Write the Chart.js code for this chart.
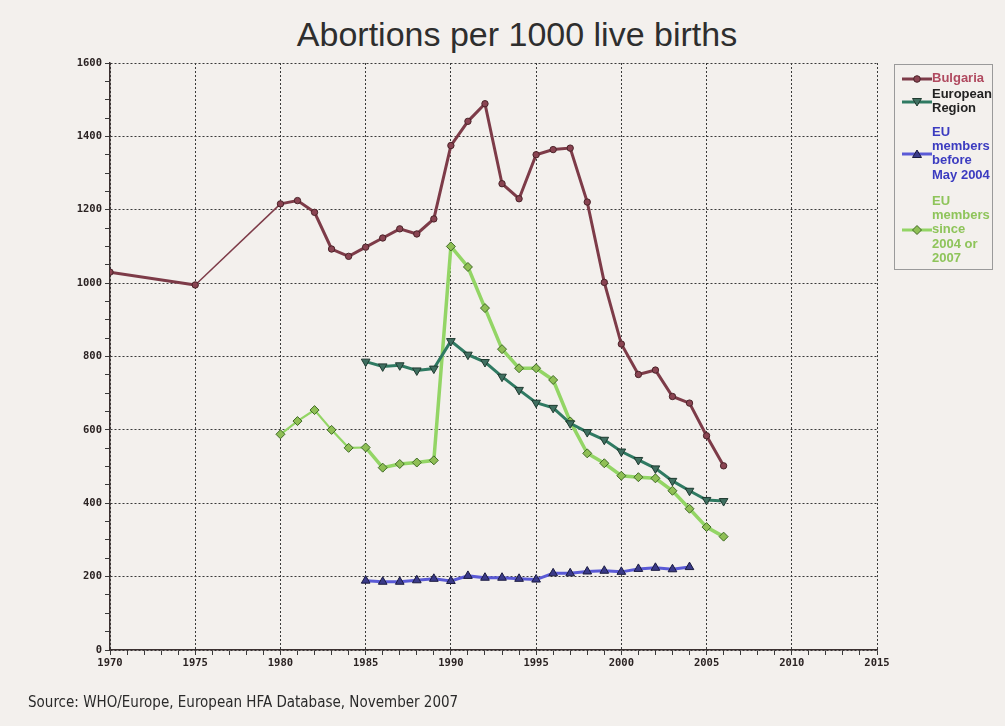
<!DOCTYPE html>
<html>
<head>
<meta charset="utf-8">
<script src="https://cdn.jsdelivr.net/npm/chart.js@4.4.1/dist/chart.umd.min.js"></script>
<style>
  html, body { margin: 0; padding: 0; background: #f3f0ed; }
  body { width: 1005px; height: 726px; position: relative; overflow: hidden; }
  #title { position: absolute; left: 0; top: 17px; width: 1034px; text-align: center;
           font-family: "Liberation Sans", Arial, sans-serif; font-size: 34px; line-height: 34px; color: #2e2e2e; }
  #source { position: absolute; left: 28px; top: 694px; font-family: "DejaVu Sans Condensed", "DejaVu Sans", sans-serif;
            font-size: 15px; line-height: 17px; color: #2a2a2a; white-space: nowrap; }
  #chartWrap { position: absolute; left: 0; top: 0; width: 1005px; height: 726px; }
  #legend { position: absolute; left: 894px; top: 64px; width: 99px; height: 206px; border: 1px solid #9a9a9a;
            box-sizing: border-box; font-family: "Liberation Sans", Arial, sans-serif; font-weight: bold;
            font-size: 13px; line-height: 14.2px; }
  .item { position: absolute; left: 0; width: 99px; }
  .item svg { position: absolute; left: 6px; }
  .item .txt { position: absolute; left: 37px; white-space: nowrap; }
</style>
</head>
<body>
<div id="title">Abortions per 1000 live births</div>
<div id="chartWrap"><canvas id="c" width="1005" height="726"></canvas></div>
<div id="legend"></div>
<div id="source">Source: WHO/Europe, European HFA Database, November 2007</div>
<script>
// ---- Data ----
const bulgariaYears = [1970,1975,1980,1981,1982,1983,1984,1985,1986,1987,1988,1989,1990,1991,1992,1993,1994,1995,1996,1997,1998,1999,2000,2001,2002,2003,2004,2005,2006];
const bulgariaValues = [1030,995,1216,1225,1193,1093,1073,1098,1123,1148,1134,1175,1375,1441,1489,1271,1230,1350,1364,1368,1221,1002,834,751,763,691,673,584,502];

const europeYears = [1985,1986,1987,1988,1989,1990,1991,1992,1993,1994,1995,1996,1997,1998,1999,2000,2001,2002,2003,2004,2005,2006];
const europeValues = [786,773,776,762,767,842,805,785,745,709,674,660,618,594,573,541,518,495,461,434,409,406];

const euBeforeYears = [1985,1986,1987,1988,1989,1990,1991,1992,1993,1994,1995,1996,1997,1998,1999,2000,2001,2002,2003,2004];
const euBeforeValues = [189,186,186,190,194,188,202,197,197,194,192,209,209,214,216,213,221,224,220,226];

const euSinceYears = [1980,1981,1982,1983,1984,1985,1986,1987,1988,1989,1990,1991,1992,1993,1994,1995,1996,1997,1998,1999,2000,2001,2002,2003,2004,2005,2006];
const euSinceValues = [588,624,654,600,551,552,497,507,511,517,1100,1044,932,820,768,768,736,623,536,509,475,471,468,434,385,335,309];

const seriesNames = ["Bulgaria", "European Region", "EU members before May 2004", "EU members since 2004 or 2007"];
const titleText = "Abortions per 1000 live births";
const xMin = 1970, xMax = 2015, xLabelStep = 5;
const yMin = 0, yMax = 1600, yLabelStep = 200, yMinorStep = 50;

function pts(xs, ys) { return xs.map((x, i) => ({ x: x, y: ys[i] })); }

const styles = [
  { line: '#7d3b48', fill: '#8a4452', edge: '#4a2228', shape: 'circle', r: 3.2, rot: 0, w: 3, thinBefore: null, thinFrom: 1975, text: '#b04a60' },
  { line: '#2f7a62', fill: '#3f6f60', edge: '#1f3a30', shape: 'triangle', r: 5, rot: 180, w: 3, thinBefore: null, thinFrom: null, text: '#222222' },
  { line: '#5a5ad6', fill: '#3a3a88', edge: '#1a1a40', shape: 'triangle', r: 5, rot: 0, w: 3, thinBefore: null, thinFrom: null, text: '#3b3bc0' },
  { line: '#93d565', fill: '#8fbf55', edge: '#3f6a25', shape: 'rectRot', r: 4.5, rot: 0, w: 3.5, thinBefore: 1985, thinFrom: null, text: '#8ec45a' }
];
const allData = [
  pts(bulgariaYears, bulgariaValues),
  pts(europeYears, europeValues),
  pts(euBeforeYears, euBeforeValues),
  pts(euSinceYears, euSinceValues)
];

const datasets = allData.map((d, i) => {
  const st = styles[i];
  return {
    label: seriesNames[i],
    data: d,
    borderColor: st.line,
    borderWidth: st.w,
    backgroundColor: st.fill,
    pointBackgroundColor: st.fill,
    pointBorderColor: st.edge,
    pointBorderWidth: 1,
    pointStyle: st.shape,
    pointRotation: st.rot,
    pointRadius: st.r,
    pointHoverRadius: st.r,
    tension: 0,
    fill: false,
    segment: {
      borderWidth: ctx => {
        const x0 = ctx.p0.parsed.x;
        if (st.thinFrom !== null && x0 === st.thinFrom) return 1.5;
        if (st.thinBefore !== null && x0 < st.thinBefore) return 2.2;
        return st.w;
      }
    }
  };
});

const tickFont = { family: "'DejaVu Sans Mono', monospace", size: 10.5, weight: 'bold' };

new Chart(document.getElementById('c'), {
  type: 'line',
  data: { datasets: datasets },
  options: {
    responsive: false,
    animation: false,
    events: [],
    layout: { padding: { left: 60, right: 128, top: 63, bottom: 51 } },
    plugins: { legend: { display: false }, title: { display: false }, tooltip: { enabled: false } },
    scales: {
      x: {
        type: 'linear', min: xMin, max: xMax,
        afterFit: s => { s.height = 25; },
        ticks: {
          stepSize: 1, autoSkip: false, maxTicksLimit: 1000, maxRotation: 0, padding: 2,
          color: '#2a2222', font: tickFont,
          callback: v => (v % xLabelStep === 0 ? String(v) : '')
        },
        grid: {
          color: c => (c.tick && c.tick.value % xLabelStep === 0 ? '#3a3a3a' : 'rgba(0,0,0,0)'),
          tickColor: '#3a3a3a', tickLength: 5, lineWidth: 1, drawTicks: true
        },
        border: { display: true, color: '#3a3030', width: 1.5, dash: [2, 2] }
      },
      y: {
        type: 'linear', min: yMin, max: yMax,
        afterFit: s => { s.width = 50; },
        ticks: {
          stepSize: yMinorStep, autoSkip: false, maxTicksLimit: 1000, padding: 3,
          color: '#2a2222', font: tickFont,
          callback: v => (v % yLabelStep === 0 ? String(v) : '')
        },
        grid: {
          color: c => (c.tick && c.tick.value % yLabelStep === 0 ? '#3a3a3a' : 'rgba(0,0,0,0)'),
          tickColor: '#3a3a3a', tickLength: 5, lineWidth: 1, drawTicks: true
        },
        border: { display: true, color: '#3a3030', width: 1.5, dash: [2, 2] }
      }
    }
  }
});

// ---- HTML legend ----
const legendLines = [["Bulgaria"], ["European", "Region"], ["EU", "members", "before", "May 2004"], ["EU", "members", "since", "2004 or", "2007"]];
const legendTops = [6, 22, 60, 129];
const markerRow = [0, 0.5, 1.5, 2];
const legend = document.getElementById('legend');
function markerSvg(st) {
  const cx = 16, cy = 7;
  let shape = '';
  if (st.shape === 'circle') shape = `<circle cx="${cx}" cy="${cy}" r="3.3" fill="${st.fill}" stroke="${st.edge}" stroke-width="1"/>`;
  else if (st.shape === 'rectRot') shape = `<polygon points="${cx},${cy-4.5} ${cx+4.5},${cy} ${cx},${cy+4.5} ${cx-4.5},${cy}" fill="${st.fill}" stroke="${st.edge}" stroke-width="1"/>`;
  else if (st.rot === 180) shape = `<polygon points="${cx-4.5},${cy-3.5} ${cx+4.5},${cy-3.5} ${cx},${cy+4}" fill="${st.fill}" stroke="${st.edge}" stroke-width="1"/>`;
  else shape = `<polygon points="${cx-4.5},${cy+3.5} ${cx+4.5},${cy+3.5} ${cx},${cy-4}" fill="${st.fill}" stroke="${st.edge}" stroke-width="1"/>`;
  return `<svg width="32" height="14"><line x1="1" y1="${cy}" x2="31" y2="${cy}" stroke="${st.line}" stroke-width="3"/>${shape}</svg>`;
}
legendLines.forEach((lines, i) => {
  const it = document.createElement('div');
  it.className = 'item';
  it.style.top = legendTops[i] + 'px';
  const svgTop = markerRow[i] * 14.2 + 0.5;
  it.innerHTML = markerSvg(styles[i]).replace('<svg', `<svg style="top:${svgTop}px"`) +
    `<div class="txt" style="color:${styles[i].text}">${lines.join('<br>')}</div>`;
  legend.appendChild(it);
});
</script>
</body>
</html>
